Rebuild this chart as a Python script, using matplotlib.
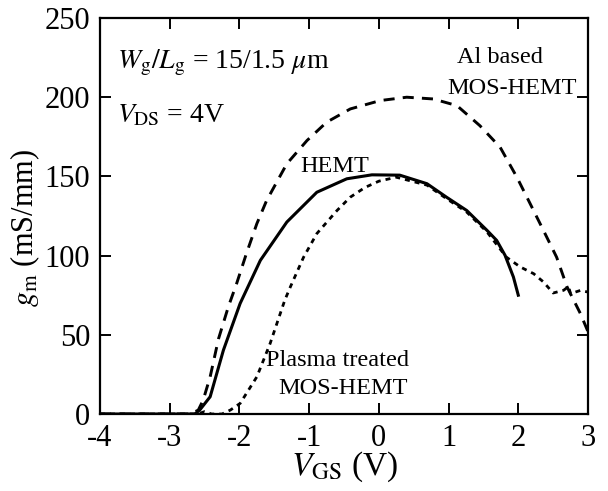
import numpy as np
import matplotlib
matplotlib.use("Agg")
import matplotlib.pyplot as plt

plt.rcParams['font.family'] = ['Liberation Serif', 'DejaVu Serif']
plt.rcParams['mathtext.fontset'] = 'stix'
plt.rcParams['axes.unicode_minus'] = False

# ---- data ----
# Al based MOS-HEMT (dashed)
al_vgs = [-4.0, -2.7, -2.59, -2.52, -2.42, -2.30, -2.16, -2.04, -1.90, -1.75,
          -1.61, -1.32, -1.03, -0.75, -0.41, 0.02, 0.40, 0.78, 1.12, 1.45,
          1.74, 1.98, 2.17, 2.36, 2.55, 2.70, 2.89, 3.0]
al_gm = [0, 0, 2.5, 8.8, 23.5, 47.5, 67.6, 82.4, 101.3, 120.2,
         134.8, 158, 172.7, 184.2, 192.6, 197.9, 200, 198.9, 194.7, 182,
         168.4, 149.5, 132.8, 116, 99, 80.2, 63.5, 52]

# HEMT (solid)
hemt_vgs = [-4.0, -2.64, -2.57, -2.42, -2.23, -1.99, -1.70, -1.32, -0.89, -0.46,
            -0.1, 0.30, 0.69, 0.97, 1.26, 1.55, 1.69, 1.81, 1.93, 2.00]
hemt_gm = [0, 0, 2.5, 10.9, 40.3, 69.8, 97, 121.2, 140, 148.5,
           151, 150.8, 145.4, 136.9, 128.5, 116, 109.6, 100.2, 86.5, 75]

# Plasma treated MOS-HEMT (dotted)
plasma_vgs = [-4.0, -2.6, -2.5, -2.4, -2.25, -2.13, -1.99, -1.75, -1.56, -1.35,
              -1.27, -1.08, -0.89, -0.60, -0.41, -0.2, 0.0, 0.25, 0.69, 0.97,
              1.26, 1.55, 1.83, 2.03, 2.22, 2.36, 2.50, 2.65, 2.72, 2.75,
              2.89, 3.0]
plasma_gm = [0, 0, 1.5, 0, 0, 2.5, 6.7, 23.5, 44.5, 71.8,
             80.2, 99, 113.9, 128.5, 136.9, 143, 147, 149.5, 144.5, 136,
             127.5, 115, 99, 92.8, 88.6, 83.4, 76.4, 78.1, 80.5, 76,
             78, 77]

xticks = [-4, -3, -2, -1, 0, 1, 2, 3]
yticks = [0, 50, 100, 150, 200, 250]

fig = plt.figure(figsize=(6.08, 4.91), dpi=100)
ax = fig.add_axes([0.1645, 0.1568, 0.8026, 0.8065])

ax.plot(al_vgs, al_gm, color='black', lw=2.1, dashes=(3.8, 2.8))
ax.plot(hemt_vgs, hemt_gm, color='black', lw=2.2)
ax.plot(plasma_vgs, plasma_gm, color='black', lw=2.0, dashes=(1.8, 1.8))

ax.set_xlim(-4, 3)
ax.set_ylim(0, 250)
ax.set_xticks(xticks)
ax.set_yticks(yticks)
ax.tick_params(direction='in', length=8, width=1.4, top=True, right=True,
               labelsize=22, pad=7)
for s in ax.spines.values():
    s.set_linewidth(1.6)

ax.set_xlabel(r'$V_{\rm GS}$ (V)', fontsize=24, labelpad=-2)
ax.set_ylabel(r'$g_{\rm m}$ (mS/mm)', fontsize=22)
ax.yaxis.set_label_coords(-0.118, 0.47)

# ---- annotations ----
ax.text(-3.76, 221.8, r'$W_{\rm g}/L_{\rm g}$ = 15/1.5 $\mu$m', fontsize=20,
        va='center', ha='left')
ax.text(-3.76, 188.5, r'$V_{\rm DS}$ = 4V', fontsize=20, va='center', ha='left')
ax.text(1.74, 225, 'Al based', fontsize=17.5, ha='center', va='center')
ax.text(1.91, 205.4, 'MOS-HEMT', fontsize=17.5, ha='center', va='center')
ax.text(-0.63, 156, 'HEMT', fontsize=17.5, ha='center', va='center')
ax.text(-0.60, 34, 'Plasma treated', fontsize=17.5, ha='center', va='center')
ax.text(-0.51, 16.4, 'MOS-HEMT', fontsize=17.5, ha='center', va='center')

fig.savefig('out.png', dpi=100)
